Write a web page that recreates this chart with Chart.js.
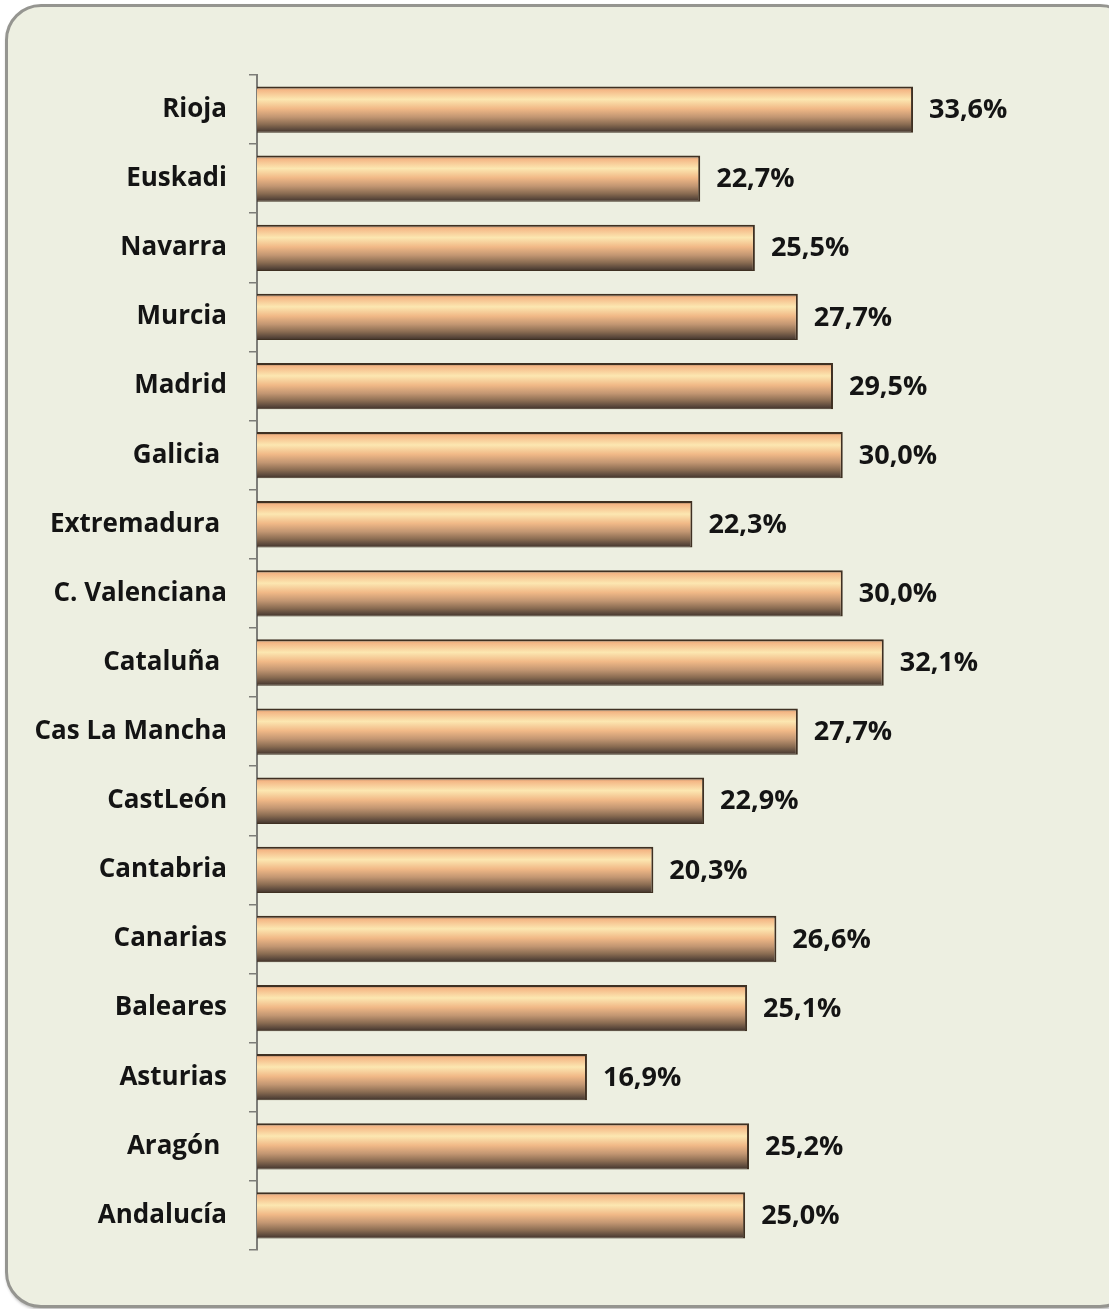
<!DOCTYPE html>
<html>
<head>
<meta charset="utf-8">
<script src="https://cdn.jsdelivr.net/npm/chart.js@4.4.1/dist/chart.umd.min.js"></script>
<style>
    html, body { margin: 0; padding: 0; background: #ffffff; overflow: hidden; }
    #panel {
        position: absolute;
        left: 5px; top: 4px;
        width: 1125px; height: 1298px;
        background: #edefe1;
        border: 3px solid #959590;
        border-radius: 36px;
        box-shadow: 1px 2px 3px rgba(0,0,0,0.25);
    }
    #wrap { position: absolute; left: 0; top: 0; width: 1109px; height: 1309px; }
</style>
</head>
<body>
<div id="panel"></div>
<div id="wrap"><canvas id="bar-chart"></canvas></div>
<script>
// regions, top to bottom as drawn (some labels keep the trailing space they were typed with)
const regions = [
    'Rioja', 'Euskadi', 'Navarra', 'Murcia', 'Madrid', 'Galicia ', 'Extremadura ',
    'C. Valenciana', 'Cataluña ', 'Cas La Mancha', 'CastLeón', 'Cantabria',
    'Canarias', 'Baleares', 'Asturias', 'Aragón ', 'Andalucía'
];
const percent = [
    33.6, 22.7, 25.5, 27.7, 29.5, 30.0, 22.3,
    30.0, 32.1, 27.7, 22.9, 20.3,
    26.6, 25.1, 16.9, 25.2, 25.0
];
const x_max = 40;

const label_font = { family: 'Open Sans', size: 26, weight: 'bold' };
const bar_pct = 0.67;

function fmt(v) {
    return v.toFixed(1).replace('.', ',') + '%';
}

// cylinder-style shading, built per bar from the category scale
function barFill(context) {
    const chart = context.chart;
    if (!chart.chartArea) return '#f6c08c';
    const y = chart.scales.y;
    const band = (y.bottom - y.top) / regions.length;
    const mid = y.getPixelForValue(context.dataIndex);
    const h = band * bar_pct;
    const g = chart.ctx.createLinearGradient(0, mid - h / 2, 0, mid + h / 2);
    g.addColorStop(0.00, '#6a5a48');
    g.addColorStop(0.07, '#f4b584');
    g.addColorStop(0.28, '#fce7b1');
    g.addColorStop(0.48, '#f1b987');
    g.addColorStop(0.66, '#c29672');
    g.addColorStop(0.82, '#8a6c52');
    g.addColorStop(0.94, '#58463a');
    g.addColorStop(1.00, '#3e3026');
    return g;
}

const valueLabels = {
    id: 'valueLabels',
    afterDatasetsDraw(chart) {
        const ctx = chart.ctx;
        const meta = chart.getDatasetMeta(0);
        ctx.save();
        ctx.font = 'bold 27px "Open Sans"';
        ctx.fillStyle = '#141414';
        ctx.textAlign = 'left';
        ctx.textBaseline = 'middle';
        meta.data.forEach(function(bar, i) {
            ctx.fillText(fmt(percent[i]), bar.x + 16, bar.y + 1);
        });
        ctx.restore();
    }
};

var chrt = document.getElementById('bar-chart').getContext('2d');
var chartId = new Chart(chrt, {
    type: 'bar',
    data: {
        labels: regions,
        datasets: [{
            data: percent,
            backgroundColor: barFill,
            borderColor: '#3f3022',
            borderWidth: { top: 2, right: 2, bottom: 1, left: 0 },
            borderSkipped: false,
            categoryPercentage: 1,
            barPercentage: bar_pct
        }]
    },
    options: {
        indexAxis: 'y',
        responsive: true,
        maintainAspectRatio: false,
        animation: false,
        layout: { padding: { left: 0, top: 75, right: 71, bottom: 59 } },
        plugins: {
            legend: { display: false },
            tooltip: { enabled: false }
        },
        scales: {
            x: {
                display: false,
                min: 0,
                max: x_max
            },
            y: {
                afterFit: function(scale) { scale.width = 257; },
                grid: {
                    display: true,
                    offset: true,
                    drawOnChartArea: false,
                    drawTicks: true,
                    tickLength: 8,
                    color: '#7d7d78',
                    lineWidth: 1.5
                },
                border: { display: true, color: '#7d7d78', width: 2 },
                ticks: {
                    color: '#141414',
                    font: label_font,
                    padding: 22,
                    autoSkip: false
                }
            }
        }
    },
    plugins: [valueLabels]
});
</script>
</body>
</html>
